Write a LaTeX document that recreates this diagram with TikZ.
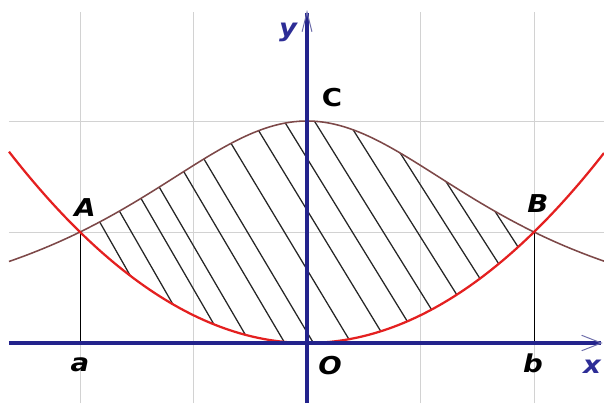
\documentclass[tikz,border=0pt]{standalone}
\usepackage{fontspec}
\setmainfont{DejaVu Sans}
\usetikzlibrary{arrows.meta}
\definecolor{axisblue}{RGB}{35,35,140}
\definecolor{labelblue}{RGB}{45,45,150}
\definecolor{curvered}{RGB}{228,32,32}
\definecolor{curvebrown}{RGB}{125,72,72}
\definecolor{gridgray}{RGB}{210,210,210}
\definecolor{barbblue}{RGB}{110,110,170}
\newcommand{\wideletter}[1]{\scalebox{1.12}[1]{#1}}
\tikzset{
  gridline/.style={gridgray, line width=0.7pt},
  axisline/.style={axisblue, line width=2.5pt},
  redcurve/.style={curvered, line width=1.6pt},
  browncurve/.style={curvebrown, line width=1.1pt},
  hatchline/.style={black!85, line width=0.9pt},
  dropline/.style={black, line width=0.7pt},
  ptlabel/.style={font=\fontsize{17.5}{18}\selectfont\bfseries\itshape, inner sep=0pt},
  axlabel/.style={font=\fontsize{17.5}{18}\selectfont\bfseries\itshape, text=labelblue, inner sep=0pt},
}
\begin{document}
\begin{tikzpicture}[x=2.8375cm, y=2.775cm]
\useasboundingbox (-2.7048,-0.5405) rectangle (2.6167,3.0901);
% grid
\foreach \gx in {-2,-1,1,2} \draw[gridline] (\gx,-0.5405) -- (\gx,2.982);
\foreach \gy in {1,2} \draw[gridline] (-2.6256,\gy) -- (2.6167,\gy);
% hatching
\begin{scope}
  \clip plot[domain=-2:2, samples=80] (\x,{8/(4+\x*\x)}) -- plot[domain=2:-2, samples=80] (\x,{0.25*\x*\x}) -- cycle;
  \foreach \xc in {-1.771,-1.542,-1.286,-1.066,-0.767,-0.520,-0.194,0.123,0.405,0.678,0.978,1.269,1.515,1.780} {
    \pgfmathsetmacro{\s}{(1.65-0.06*\xc)*1.0225}
    \coordinate (h1) at ({\xc-1},{0.991+\s});
    \coordinate (h2) at ({\xc+1},{0.991-\s});
    \draw[hatchline] (h1) -- (h2);
  }
\end{scope}
% points
\coordinate (A) at (-2,1);
\coordinate (B) at (2,1);
\coordinate (C) at (0,2);
\coordinate (O) at (0,0);
\coordinate (a) at (-2,0);
\coordinate (b) at (2,0);
\coordinate (xs) at (-2.6256,0);
\coordinate (xe) at (2.605,0);
\coordinate (ys) at (0,-0.5405);
\coordinate (ye) at (0,3.0);
% drop lines
\draw[dropline] (A) -- (a);
\draw[dropline] (B) -- (b);
% curves
\draw[browncurve] plot[domain=-2.6256:2.6167, samples=120] (\x,{8/(4+\x*\x)});
\draw[redcurve] plot[domain=-2.6256:2.6167, samples=120] (\x,{0.25*\x*\x});
% axes
\draw[axisline, -{Straight Barb[length=14pt, width=11pt, line width=0.7pt, color=barbblue]}] (xs) -- (xe);
\draw[axisline, -{Straight Barb[length=14pt, width=7pt, line width=0.7pt, color=barbblue]}] (ys) -- (ye);
% labels
\node[ptlabel] (lA) at (-1.956,1.225) {\wideletter{A}};
\node[ptlabel] (lB) at (2.035,1.261) {\wideletter{B}};
\node[ptlabel, font=\fontsize{17.5}{18}\selectfont\bfseries] (lC) at (0.220,2.207) {\wideletter{C}};
\node[ptlabel] (la) at (-2.0,-0.198) {\wideletter{a}};
\node[ptlabel] (lb) at (1.991,-0.180) {\wideletter{b}};
\node[ptlabel] (lO) at (0.203,-0.207) {\wideletter{O}};
\node[axlabel] (lx) at (2.511,-0.216) {\wideletter{x}};
\node[axlabel] (ly) at (-0.167,2.802) {\wideletter{y}};
\end{tikzpicture}
\end{document}
